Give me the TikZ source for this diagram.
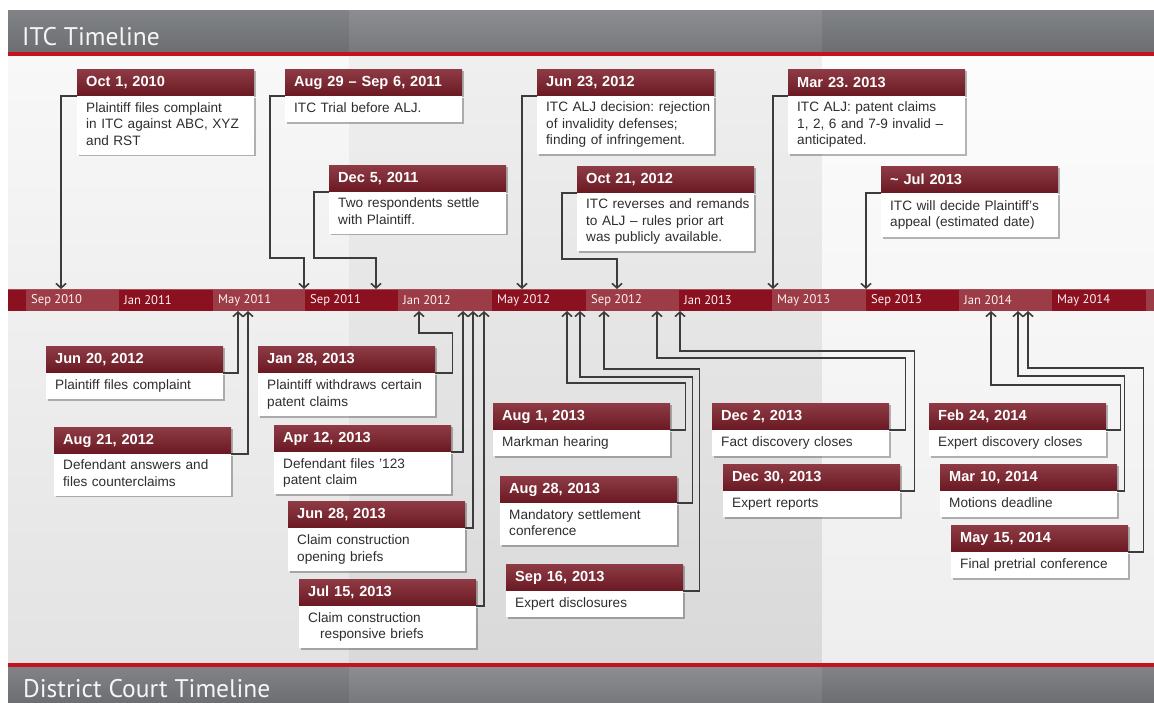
\documentclass[tikz,border=0pt]{standalone}
\usepackage{fontspec}
\setmainfont{Liberation Sans}
\newfontfamily\titlefont{PT Sans}
\usetikzlibrary{arrows.meta,shadows,calc}
\frenchspacing
\definecolor{hdrAtop}{HTML}{818386}
\definecolor{hdrAbot}{HTML}{6C6E71}
\definecolor{hdrBtop}{HTML}{8B8D90}
\definecolor{hdrBbot}{HTML}{77797C}
\definecolor{redline}{HTML}{C4121F}
\definecolor{bgAtop}{HTML}{F8F8F8}
\definecolor{bgAbot}{HTML}{E3E3E3}
\definecolor{bgBtop}{HTML}{EFEFEF}
\definecolor{bgBbot}{HTML}{D9D9D9}
\definecolor{bgCtop}{HTML}{FCFCFC}
\definecolor{bgCbot}{HTML}{EEEEEE}
\definecolor{bardark}{HTML}{8B1020}
\definecolor{barlight}{HTML}{9C3C46}
\definecolor{evtop}{HTML}{8E3B45}
\definecolor{evbot}{HTML}{6A1923}
\definecolor{bodytext}{HTML}{2E2E2E}
\definecolor{conncol}{HTML}{3C3C3C}
\newcommand\bx[1]{\begin{tabular}{@{}l@{}}#1\end{tabular}}
\newcommand\evt[6]{%
  \node[evhead] (#1h) at (#2,#3) {#4};
  \node[evbody, minimum height=#5pt] (#1b) at (#1h.south west) {\bx{#6}};
}
\tikzset{
  boxshadow/.style={drop shadow={shadow xshift=1.3pt, shadow yshift=-1.6pt, opacity=0.28, fill=black}},
  evhead/.style={anchor=north west, minimum width=177pt, minimum height=26.5pt,
    inner xsep=9pt, inner ysep=0pt, text width=159pt, align=left,
    top color=evtop, bottom color=evbot, text=white,
    font=\fontsize{14.6}{17}\selectfont\bfseries\frenchspacing, boxshadow},
  evbody/.style={anchor=north west, minimum width=177pt, inner xsep=9pt,
    inner ysep=0pt, text width=159pt, align=left, fill=white, text=bodytext,
    font=\fontsize{13.6}{16.5}\selectfont\frenchspacing, boxshadow},
  conn/.style={draw=conncol, line width=1.6pt, line join=miter,
    -{Straight Barb[length=4.5pt,width=10pt]}},
  seglab/.style={anchor=west, inner sep=0pt, text=white!95!red,
    font=\titlefont\fontsize{12.6}{14}\selectfont},
  bigtitle/.style={anchor=base west, inner sep=0pt, text=white!96!black,
    font=\titlefont\fontsize{25.5}{30}\selectfont}
}
\begin{document}
\begin{tikzpicture}[x=1pt, y=-1pt]
\useasboundingbox (0,0) rectangle (1154,702);
\fill[white] (0,0) rectangle (1154,702);
% header bar
\fill[top color=hdrAtop, bottom color=hdrAbot] (8,10) rectangle (349,52);
\fill[top color=hdrBtop, bottom color=hdrBbot] (349,10) rectangle (822,52);
\fill[top color=hdrAtop, bottom color=hdrAbot] (822,10) rectangle (1154,52);
\fill[redline] (8,52) rectangle (1154,56);
% background bands
\fill[top color=bgAtop, bottom color=bgAbot] (8,56) rectangle (349,663);
\fill[top color=bgBtop, bottom color=bgBbot] (349,56) rectangle (822,663);
\fill[top color=bgCtop, bottom color=bgCbot] (822,56) rectangle (1154,663);
% footer bar
\fill[redline] (8,663) rectangle (1154,667);
\fill[top color=hdrAtop, bottom color=hdrAbot] (8,667) rectangle (349,702);
\fill[top color=hdrBtop, bottom color=hdrBbot] (349,667) rectangle (822,702);
\fill[top color=hdrAtop, bottom color=hdrAbot] (822,667) rectangle (1154,702);
\node[bigtitle] (itc) at (22,45) {ITC Timeline};
\node[bigtitle] (dct) at (23,697) {District Court Timeline};
% timeline bar
\fill[bardark] (8,289) rectangle (1154,311);
\foreach \a/\b in {26/119, 213/305, 398/492, 586/679, 772/866, 959/1052, 1146/1154}
  \fill[barlight] (\a,289) rectangle (\b,311);
\draw[white!25!bardark, line width=0.8pt] (8,289.4) -- (1154,289.4);
\foreach \a/\t [count=\i] in {26/Sep 2010, 119/Jan 2011, 213/May 2011, 305/Sep 2011,
  398/Jan 2012, 492/May 2012, 586/Sep 2012, 679/Jan 2013, 772/May 2013,
  866/Sep 2013, 959/Jan 2014, 1052/May 2014}
  \node[seglab] (m\i) at (\a+5,300.5) {\t};
% arrow tip coordinates on the bar
\coordinate (a1) at (61,289);
\coordinate (a2) at (304,289);
\coordinate (a3) at (376,289);
\coordinate (a4) at (522,289);
\coordinate (a5) at (617,289);
\coordinate (a6) at (773,289);
\coordinate (a7) at (866,289);
\coordinate (c1) at (238,311);
\coordinate (c2) at (248,311);
\coordinate (c3) at (419,311);
\coordinate (c4) at (463,311);
\coordinate (c5) at (473,311);
\coordinate (c6) at (484,311);
\coordinate (c7) at (567,311);
\coordinate (c8) at (580,311);
\coordinate (c9) at (604,311);
\coordinate (c10) at (657,311);
\coordinate (c11) at (680,311);
\coordinate (c12) at (991,311);
\coordinate (c13) at (1018,311);
\coordinate (c14) at (1028,311);
% ITC events
\evt{t1}{77}{69}{Oct 1, 2010}{58.5}{Plaintiff files complaint\\in ITC against ABC, XYZ\\and RST}
\evt{t2}{285}{69}{Aug 29 – Sep 6, 2011}{26}{ITC Trial before ALJ.}
\evt{t3}{329}{165}{Dec 5, 2011}{41.5}{Two respondents settle\\with Plaintiff.}
\evt{t4}{537}{69}{Jun 23, 2012}{58}{ITC ALJ decision: rejection\\of invalidity defenses;\\finding of infringement.}
\evt{t5}{577}{166}{Oct 21, 2012}{58}{ITC reverses and remands\\to ALJ – rules prior art\\was publicly available.}
\evt{t6}{788}{69}{Mar 23. 2013}{58}{ITC ALJ: patent claims\\1, 2, 6 and 7-9 invalid –\\anticipated.}
\evt{t7}{881}{166}{\textasciitilde\ Jul 2013}{44}{ITC will decide Plaintiff’s\\appeal (estimated date)}
% District court events
\evt{b1}{46}{346}{Jun 20, 2012}{26}{Plaintiff files complaint}
\evt{b2}{54}{427}{Aug 21, 2012}{41.5}{Defendant answers and\\files counterclaims}
\evt{b3}{258}{346}{Jan 28, 2013}{43}{Plaintiff withdraws certain\\patent claims}
\evt{b4}{274}{425}{Apr 12, 2013}{42}{Defendant files ’123\\patent claim}
\evt{b5}{288}{501}{Jun 28, 2013}{43}{Claim construction\\opening briefs}
\evt{b6}{299}{579}{Jul 15, 2013}{42}{Claim construction\\\hspace*{12pt}responsive briefs}
\evt{b7}{493}{403}{Aug 1, 2013}{26}{Markman hearing}
\evt{b8}{500}{476}{Aug 28, 2013}{42}{Mandatory settlement\\conference}
\evt{b9}{506}{564}{Sep 16, 2013}{26}{Expert disclosures}
\evt{b10}{712}{403}{Dec 2, 2013}{26}{Fact discovery closes}
\evt{b11}{723}{464}{Dec 30, 2013}{26}{Expert reports}
\evt{b12}{929}{403}{Feb 24, 2014}{26}{Expert discovery closes}
\evt{b13}{940}{464}{Mar 10, 2014}{26}{Motions deadline}
\evt{b14}{951}{525}{May 15, 2014}{26}{Final pretrial conference}
% ITC connectors
\draw[conn] (t1h.south west) -| (a1);
\draw[conn] (t2h.south west) -- ++(-15,0) |- ($(a2)+(0,-31)$) -- (a2);
\draw[conn] (t3h.south west) -- ++(-15,0) |- ($(a3)+(0,-31)$) -- (a3);
\draw[conn] (t4h.south west) -| (a4);
\draw[conn] (t5h.south west) -- ++(-15,0) |- ($(a5)+(0,-30)$) -- (a5);
\draw[conn] (t6h.south west) -| (a6);
\draw[conn] (t7h.south west) -| (a7);
% District court connectors
\draw[conn] (b1h.south east) -| (c1);
\draw[conn] (b2h.south east) -| (c2);
\draw[conn] (b3h.south east) -- ++(17,0) |- ($(c3)+(0,22)$) -- (c3);
\draw[conn] (b4h.south east) -| (c4);
\draw[conn] (b5h.south east) -| (c5);
\draw[conn] (b6h.south east) -| (c6);
\draw[conn] (b7h.south east) -- ++(15,0) |- ($(c7)+(0,72)$) -- (c7);
\draw[conn] (b8h.south east) -- ++(15,0) |- ($(c8)+(0,66)$) -- (c8);
\draw[conn] (b9h.south east) -- ++(16,0) |- ($(c9)+(0,58)$) -- (c9);
\draw[conn] (b10h.south east) -- ++(16,0) |- ($(c10)+(0,47)$) -- (c10);
\draw[conn] (b11h.south east) -- ++(14,0) |- ($(c11)+(0,40)$) -- (c11);
\draw[conn] (b12h.south east) -- ++(14,0) |- ($(c12)+(0,74)$) -- (c12);
\draw[conn] (b13h.south east) -- ++(7,0) |- ($(c13)+(0,65)$) -- (c13);
\draw[conn] (b14h.south east) -- ++(15,0) |- ($(c14)+(0,57)$) -- (c14);
\end{tikzpicture}
\end{document}
